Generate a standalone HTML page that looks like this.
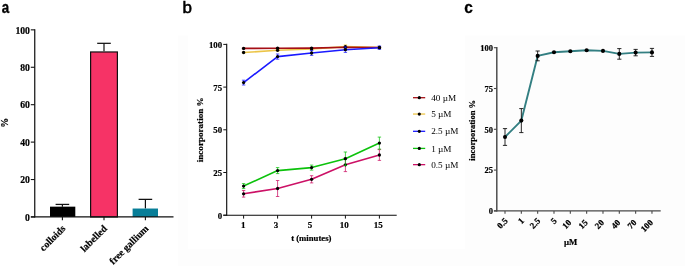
<!DOCTYPE html>
<html><head><meta charset="utf-8"><title>figure</title>
<style>
html,body{margin:0;padding:0;background:#fff;}
body{width:685px;height:267px;overflow:hidden;font-family:"Liberation Serif",serif;}
svg{display:block;will-change:transform;}
</style></head>
<body>
<svg width="685" height="267" viewBox="0 0 685 267">
<rect x="178" y="35.5" width="507" height="230.5" fill="#fdfdfd"/>
<rect x="188" y="0" width="277" height="249.3" fill="#ffffff"/>
<text x="1.80" y="13.20" font-family='"Liberation Sans", sans-serif' font-size="16.5" font-weight="bold" text-anchor="start" fill="#000" textLength="7.4" lengthAdjust="spacingAndGlyphs" stroke="#000" stroke-width="0.4">a</text>
<text x="182.40" y="13.30" font-family='"Liberation Sans", sans-serif' font-size="17" font-weight="normal" text-anchor="start" fill="#000" stroke="#000" stroke-width="0.55">b</text>
<text x="464.30" y="13.40" font-family='"Liberation Sans", sans-serif' font-size="17.2" font-weight="bold" text-anchor="start" fill="#000" textLength="8.6" lengthAdjust="spacingAndGlyphs" stroke="#000" stroke-width="0.3">c</text>
<line x1="62.40" y1="206.66" x2="62.40" y2="204.41" stroke="#111" stroke-width="1.2" stroke-linecap="butt"/>
<line x1="55.60" y1="204.41" x2="69.20" y2="204.41" stroke="#111" stroke-width="1.25" stroke-linecap="butt"/>
<line x1="104.00" y1="51.37" x2="104.00" y2="43.32" stroke="#111" stroke-width="1.2" stroke-linecap="butt"/>
<line x1="97.20" y1="43.32" x2="110.80" y2="43.32" stroke="#111" stroke-width="1.25" stroke-linecap="butt"/>
<line x1="145.40" y1="208.53" x2="145.40" y2="199.36" stroke="#111" stroke-width="1.2" stroke-linecap="butt"/>
<line x1="138.60" y1="199.36" x2="152.20" y2="199.36" stroke="#111" stroke-width="1.25" stroke-linecap="butt"/>
<rect x="50.00" y="206.66" width="25.30" height="10.29" fill="#000000"/>
<rect x="90.60" y="51.97" width="26.80" height="164.98" fill="#f63366" stroke="#111" stroke-width="1.2"/>
<rect x="132.60" y="208.53" width="25.40" height="8.42" fill="#087e98"/>
<line x1="34.75" y1="29.25" x2="34.75" y2="217.55" stroke="#0c0c0c" stroke-width="1.2" stroke-linecap="butt"/>
<line x1="30.90" y1="216.95" x2="173.50" y2="216.95" stroke="#111" stroke-width="1.3" stroke-linecap="butt"/>
<line x1="30.80" y1="216.95" x2="34.75" y2="216.95" stroke="#111" stroke-width="1.1" stroke-linecap="butt"/>
<text x="29.95" y="220.65" font-family='"Liberation Serif", serif' font-size="9.7" font-weight="bold" text-anchor="end" fill="#000" stroke="#000" stroke-width="0.2">0</text>
<line x1="30.80" y1="179.53" x2="34.75" y2="179.53" stroke="#111" stroke-width="1.1" stroke-linecap="butt"/>
<text x="29.95" y="183.23" font-family='"Liberation Serif", serif' font-size="9.7" font-weight="bold" text-anchor="end" fill="#000" stroke="#000" stroke-width="0.2">20</text>
<line x1="30.80" y1="142.11" x2="34.75" y2="142.11" stroke="#111" stroke-width="1.1" stroke-linecap="butt"/>
<text x="29.95" y="145.81" font-family='"Liberation Serif", serif' font-size="9.7" font-weight="bold" text-anchor="end" fill="#000" stroke="#000" stroke-width="0.2">40</text>
<line x1="30.80" y1="104.69" x2="34.75" y2="104.69" stroke="#111" stroke-width="1.1" stroke-linecap="butt"/>
<text x="29.95" y="108.39" font-family='"Liberation Serif", serif' font-size="9.7" font-weight="bold" text-anchor="end" fill="#000" stroke="#000" stroke-width="0.2">60</text>
<line x1="30.80" y1="67.27" x2="34.75" y2="67.27" stroke="#111" stroke-width="1.1" stroke-linecap="butt"/>
<text x="29.95" y="70.97" font-family='"Liberation Serif", serif' font-size="9.7" font-weight="bold" text-anchor="end" fill="#000" stroke="#000" stroke-width="0.2">80</text>
<line x1="30.80" y1="29.85" x2="34.75" y2="29.85" stroke="#111" stroke-width="1.1" stroke-linecap="butt"/>
<text x="29.95" y="33.55" font-family='"Liberation Serif", serif' font-size="9.7" font-weight="bold" text-anchor="end" fill="#000" stroke="#000" stroke-width="0.2">100</text>
<line x1="62.40" y1="216.95" x2="62.40" y2="220.35" stroke="#111" stroke-width="1.1" stroke-linecap="butt"/>
<text x="66.10" y="229.15" font-family='"Liberation Serif", serif' font-size="9.9" font-weight="bold" text-anchor="end" fill="#000" transform="rotate(-45 66.10 229.15)" stroke="#000" stroke-width="0.2">colloids</text>
<line x1="104.00" y1="216.95" x2="104.00" y2="220.35" stroke="#111" stroke-width="1.1" stroke-linecap="butt"/>
<text x="107.70" y="229.15" font-family='"Liberation Serif", serif' font-size="9.9" font-weight="bold" text-anchor="end" fill="#000" transform="rotate(-45 107.70 229.15)" stroke="#000" stroke-width="0.2">labelled</text>
<line x1="145.40" y1="216.95" x2="145.40" y2="220.35" stroke="#111" stroke-width="1.1" stroke-linecap="butt"/>
<text x="149.10" y="229.15" font-family='"Liberation Serif", serif' font-size="9.9" font-weight="bold" text-anchor="end" fill="#000" transform="rotate(-45 149.10 229.15)" stroke="#000" stroke-width="0.2">free gallium</text>
<text x="8.40" y="122.70" font-family='"Liberation Serif", serif' font-size="9.7" font-weight="bold" text-anchor="middle" fill="#000" transform="rotate(-90 8.40 122.70)" stroke="#000" stroke-width="0.2">%</text>
<line x1="226.70" y1="43.85" x2="226.70" y2="215.75" stroke="#0a0a0a" stroke-width="1.12" stroke-linecap="butt"/>
<line x1="223.30" y1="215.20" x2="396.70" y2="215.20" stroke="#0a0a0a" stroke-width="1.12" stroke-linecap="butt"/>
<line x1="223.30" y1="215.20" x2="226.70" y2="215.20" stroke="#111" stroke-width="1.0" stroke-linecap="butt"/>
<text x="222.10" y="218.80" font-family='"Liberation Serif", serif' font-size="8.8" font-weight="bold" text-anchor="end" fill="#000" stroke="#000" stroke-width="0.2">0</text>
<line x1="223.30" y1="172.50" x2="226.70" y2="172.50" stroke="#111" stroke-width="1.0" stroke-linecap="butt"/>
<text x="222.10" y="176.10" font-family='"Liberation Serif", serif' font-size="8.8" font-weight="bold" text-anchor="end" fill="#000" stroke="#000" stroke-width="0.2">25</text>
<line x1="223.30" y1="129.80" x2="226.70" y2="129.80" stroke="#111" stroke-width="1.0" stroke-linecap="butt"/>
<text x="222.10" y="133.40" font-family='"Liberation Serif", serif' font-size="8.8" font-weight="bold" text-anchor="end" fill="#000" stroke="#000" stroke-width="0.2">50</text>
<line x1="223.30" y1="87.10" x2="226.70" y2="87.10" stroke="#111" stroke-width="1.0" stroke-linecap="butt"/>
<text x="222.10" y="90.70" font-family='"Liberation Serif", serif' font-size="8.8" font-weight="bold" text-anchor="end" fill="#000" stroke="#000" stroke-width="0.2">75</text>
<line x1="223.30" y1="44.40" x2="226.70" y2="44.40" stroke="#111" stroke-width="1.0" stroke-linecap="butt"/>
<text x="222.10" y="48.00" font-family='"Liberation Serif", serif' font-size="8.8" font-weight="bold" text-anchor="end" fill="#000" stroke="#000" stroke-width="0.2">100</text>
<line x1="243.60" y1="215.20" x2="243.60" y2="218.60" stroke="#111" stroke-width="1.0" stroke-linecap="butt"/>
<text x="243.35" y="228.15" font-family='"Liberation Serif", serif' font-size="9.0" font-weight="bold" text-anchor="middle" fill="#000" stroke="#000" stroke-width="0.2">1</text>
<line x1="277.60" y1="215.20" x2="277.60" y2="218.60" stroke="#111" stroke-width="1.0" stroke-linecap="butt"/>
<text x="276.05" y="228.15" font-family='"Liberation Serif", serif' font-size="9.0" font-weight="bold" text-anchor="middle" fill="#000" stroke="#000" stroke-width="0.2">3</text>
<line x1="311.60" y1="215.20" x2="311.60" y2="218.60" stroke="#111" stroke-width="1.0" stroke-linecap="butt"/>
<text x="310.10" y="228.15" font-family='"Liberation Serif", serif' font-size="9.0" font-weight="bold" text-anchor="middle" fill="#000" stroke="#000" stroke-width="0.2">5</text>
<line x1="345.40" y1="215.20" x2="345.40" y2="218.60" stroke="#111" stroke-width="1.0" stroke-linecap="butt"/>
<text x="344.25" y="228.15" font-family='"Liberation Serif", serif' font-size="9.0" font-weight="bold" text-anchor="middle" fill="#000" stroke="#000" stroke-width="0.2">10</text>
<line x1="379.40" y1="215.20" x2="379.40" y2="218.60" stroke="#111" stroke-width="1.0" stroke-linecap="butt"/>
<text x="378.20" y="228.15" font-family='"Liberation Serif", serif' font-size="9.0" font-weight="bold" text-anchor="middle" fill="#000" stroke="#000" stroke-width="0.2">15</text>
<text x="311.30" y="241.00" font-family='"Liberation Serif", serif' font-size="8.7" font-weight="bold" text-anchor="middle" fill="#000" stroke="#000" stroke-width="0.2">t (minutes)</text>
<text x="203.30" y="129.80" font-family='"Liberation Serif", serif' font-size="9.1" font-weight="bold" text-anchor="middle" fill="#000" transform="rotate(-90 203.30 129.80)" stroke="#000" stroke-width="0.2">incorporation %</text>
<polyline points="243.60,193.80 277.60,188.50 311.60,179.30 345.40,164.80 379.40,155.00" fill="none" stroke="#cc1166" stroke-width="1.6" stroke-linejoin="round"/>
<line x1="243.60" y1="190.50" x2="243.60" y2="197.10" stroke="#cc1166" stroke-width="0.75" stroke-linecap="butt"/>
<line x1="241.90" y1="190.50" x2="245.30" y2="190.50" stroke="#cc1166" stroke-width="0.75" stroke-linecap="butt"/>
<line x1="241.90" y1="197.10" x2="245.30" y2="197.10" stroke="#cc1166" stroke-width="0.75" stroke-linecap="butt"/>
<line x1="277.60" y1="180.50" x2="277.60" y2="196.50" stroke="#cc1166" stroke-width="0.75" stroke-linecap="butt"/>
<line x1="275.90" y1="180.50" x2="279.30" y2="180.50" stroke="#cc1166" stroke-width="0.75" stroke-linecap="butt"/>
<line x1="275.90" y1="196.50" x2="279.30" y2="196.50" stroke="#cc1166" stroke-width="0.75" stroke-linecap="butt"/>
<line x1="311.60" y1="175.70" x2="311.60" y2="182.90" stroke="#cc1166" stroke-width="0.75" stroke-linecap="butt"/>
<line x1="309.90" y1="175.70" x2="313.30" y2="175.70" stroke="#cc1166" stroke-width="0.75" stroke-linecap="butt"/>
<line x1="309.90" y1="182.90" x2="313.30" y2="182.90" stroke="#cc1166" stroke-width="0.75" stroke-linecap="butt"/>
<line x1="345.40" y1="158.00" x2="345.40" y2="171.60" stroke="#cc1166" stroke-width="0.75" stroke-linecap="butt"/>
<line x1="343.70" y1="158.00" x2="347.10" y2="158.00" stroke="#cc1166" stroke-width="0.75" stroke-linecap="butt"/>
<line x1="343.70" y1="171.60" x2="347.10" y2="171.60" stroke="#cc1166" stroke-width="0.75" stroke-linecap="butt"/>
<line x1="379.40" y1="149.60" x2="379.40" y2="160.40" stroke="#cc1166" stroke-width="0.75" stroke-linecap="butt"/>
<line x1="377.70" y1="149.60" x2="381.10" y2="149.60" stroke="#cc1166" stroke-width="0.75" stroke-linecap="butt"/>
<line x1="377.70" y1="160.40" x2="381.10" y2="160.40" stroke="#cc1166" stroke-width="0.75" stroke-linecap="butt"/>
<circle cx="243.60" cy="193.80" r="1.65" fill="#000"/>
<circle cx="277.60" cy="188.50" r="1.65" fill="#000"/>
<circle cx="311.60" cy="179.30" r="1.65" fill="#000"/>
<circle cx="345.40" cy="164.80" r="1.65" fill="#000"/>
<circle cx="379.40" cy="155.00" r="1.65" fill="#000"/>
<polyline points="243.60,186.10 277.60,170.60 311.60,167.60 345.40,158.70 379.40,143.10" fill="none" stroke="#0cc20c" stroke-width="1.6" stroke-linejoin="round"/>
<line x1="243.60" y1="183.60" x2="243.60" y2="188.60" stroke="#0cc20c" stroke-width="0.75" stroke-linecap="butt"/>
<line x1="241.90" y1="183.60" x2="245.30" y2="183.60" stroke="#0cc20c" stroke-width="0.75" stroke-linecap="butt"/>
<line x1="241.90" y1="188.60" x2="245.30" y2="188.60" stroke="#0cc20c" stroke-width="0.75" stroke-linecap="butt"/>
<line x1="277.60" y1="167.60" x2="277.60" y2="173.60" stroke="#0cc20c" stroke-width="0.75" stroke-linecap="butt"/>
<line x1="275.90" y1="167.60" x2="279.30" y2="167.60" stroke="#0cc20c" stroke-width="0.75" stroke-linecap="butt"/>
<line x1="275.90" y1="173.60" x2="279.30" y2="173.60" stroke="#0cc20c" stroke-width="0.75" stroke-linecap="butt"/>
<line x1="311.60" y1="165.10" x2="311.60" y2="170.10" stroke="#0cc20c" stroke-width="0.75" stroke-linecap="butt"/>
<line x1="309.90" y1="165.10" x2="313.30" y2="165.10" stroke="#0cc20c" stroke-width="0.75" stroke-linecap="butt"/>
<line x1="309.90" y1="170.10" x2="313.30" y2="170.10" stroke="#0cc20c" stroke-width="0.75" stroke-linecap="butt"/>
<line x1="345.40" y1="152.00" x2="345.40" y2="165.40" stroke="#0cc20c" stroke-width="0.75" stroke-linecap="butt"/>
<line x1="343.70" y1="152.00" x2="347.10" y2="152.00" stroke="#0cc20c" stroke-width="0.75" stroke-linecap="butt"/>
<line x1="343.70" y1="165.40" x2="347.10" y2="165.40" stroke="#0cc20c" stroke-width="0.75" stroke-linecap="butt"/>
<line x1="379.40" y1="137.10" x2="379.40" y2="149.10" stroke="#0cc20c" stroke-width="0.75" stroke-linecap="butt"/>
<line x1="377.70" y1="137.10" x2="381.10" y2="137.10" stroke="#0cc20c" stroke-width="0.75" stroke-linecap="butt"/>
<line x1="377.70" y1="149.10" x2="381.10" y2="149.10" stroke="#0cc20c" stroke-width="0.75" stroke-linecap="butt"/>
<circle cx="243.60" cy="186.10" r="1.65" fill="#000"/>
<circle cx="277.60" cy="170.60" r="1.65" fill="#000"/>
<circle cx="311.60" cy="167.60" r="1.65" fill="#000"/>
<circle cx="345.40" cy="158.70" r="1.65" fill="#000"/>
<circle cx="379.40" cy="143.10" r="1.65" fill="#000"/>
<polyline points="243.60,52.50 277.60,50.30 311.60,49.00 345.40,46.60 379.40,47.50" fill="none" stroke="#ecc548" stroke-width="1.6" stroke-linejoin="round"/>
<line x1="243.60" y1="51.90" x2="243.60" y2="53.10" stroke="#ecc548" stroke-width="0.75" stroke-linecap="butt"/>
<line x1="241.90" y1="51.90" x2="245.30" y2="51.90" stroke="#ecc548" stroke-width="0.75" stroke-linecap="butt"/>
<line x1="241.90" y1="53.10" x2="245.30" y2="53.10" stroke="#ecc548" stroke-width="0.75" stroke-linecap="butt"/>
<line x1="277.60" y1="49.50" x2="277.60" y2="51.10" stroke="#ecc548" stroke-width="0.75" stroke-linecap="butt"/>
<line x1="275.90" y1="49.50" x2="279.30" y2="49.50" stroke="#ecc548" stroke-width="0.75" stroke-linecap="butt"/>
<line x1="275.90" y1="51.10" x2="279.30" y2="51.10" stroke="#ecc548" stroke-width="0.75" stroke-linecap="butt"/>
<line x1="311.60" y1="48.20" x2="311.60" y2="49.80" stroke="#ecc548" stroke-width="0.75" stroke-linecap="butt"/>
<line x1="309.90" y1="48.20" x2="313.30" y2="48.20" stroke="#ecc548" stroke-width="0.75" stroke-linecap="butt"/>
<line x1="309.90" y1="49.80" x2="313.30" y2="49.80" stroke="#ecc548" stroke-width="0.75" stroke-linecap="butt"/>
<line x1="345.40" y1="44.90" x2="345.40" y2="48.30" stroke="#ecc548" stroke-width="0.75" stroke-linecap="butt"/>
<line x1="343.70" y1="44.90" x2="347.10" y2="44.90" stroke="#ecc548" stroke-width="0.75" stroke-linecap="butt"/>
<line x1="343.70" y1="48.30" x2="347.10" y2="48.30" stroke="#ecc548" stroke-width="0.75" stroke-linecap="butt"/>
<line x1="379.40" y1="46.90" x2="379.40" y2="48.10" stroke="#ecc548" stroke-width="0.75" stroke-linecap="butt"/>
<line x1="377.70" y1="46.90" x2="381.10" y2="46.90" stroke="#ecc548" stroke-width="0.75" stroke-linecap="butt"/>
<line x1="377.70" y1="48.10" x2="381.10" y2="48.10" stroke="#ecc548" stroke-width="0.75" stroke-linecap="butt"/>
<circle cx="243.60" cy="52.50" r="1.65" fill="#000"/>
<circle cx="277.60" cy="50.30" r="1.65" fill="#000"/>
<circle cx="311.60" cy="49.00" r="1.65" fill="#000"/>
<circle cx="345.40" cy="46.60" r="1.65" fill="#000"/>
<circle cx="379.40" cy="47.50" r="1.65" fill="#000"/>
<polyline points="243.60,48.40 277.60,48.20 311.60,48.10 345.40,47.30 379.40,47.50" fill="none" stroke="#a50f16" stroke-width="1.6" stroke-linejoin="round"/>
<line x1="243.60" y1="47.90" x2="243.60" y2="48.90" stroke="#a50f16" stroke-width="0.75" stroke-linecap="butt"/>
<line x1="241.90" y1="47.90" x2="245.30" y2="47.90" stroke="#a50f16" stroke-width="0.75" stroke-linecap="butt"/>
<line x1="241.90" y1="48.90" x2="245.30" y2="48.90" stroke="#a50f16" stroke-width="0.75" stroke-linecap="butt"/>
<line x1="277.60" y1="47.70" x2="277.60" y2="48.70" stroke="#a50f16" stroke-width="0.75" stroke-linecap="butt"/>
<line x1="275.90" y1="47.70" x2="279.30" y2="47.70" stroke="#a50f16" stroke-width="0.75" stroke-linecap="butt"/>
<line x1="275.90" y1="48.70" x2="279.30" y2="48.70" stroke="#a50f16" stroke-width="0.75" stroke-linecap="butt"/>
<line x1="311.60" y1="47.60" x2="311.60" y2="48.60" stroke="#a50f16" stroke-width="0.75" stroke-linecap="butt"/>
<line x1="309.90" y1="47.60" x2="313.30" y2="47.60" stroke="#a50f16" stroke-width="0.75" stroke-linecap="butt"/>
<line x1="309.90" y1="48.60" x2="313.30" y2="48.60" stroke="#a50f16" stroke-width="0.75" stroke-linecap="butt"/>
<line x1="345.40" y1="46.80" x2="345.40" y2="47.80" stroke="#a50f16" stroke-width="0.75" stroke-linecap="butt"/>
<line x1="343.70" y1="46.80" x2="347.10" y2="46.80" stroke="#a50f16" stroke-width="0.75" stroke-linecap="butt"/>
<line x1="343.70" y1="47.80" x2="347.10" y2="47.80" stroke="#a50f16" stroke-width="0.75" stroke-linecap="butt"/>
<line x1="379.40" y1="47.00" x2="379.40" y2="48.00" stroke="#a50f16" stroke-width="0.75" stroke-linecap="butt"/>
<line x1="377.70" y1="47.00" x2="381.10" y2="47.00" stroke="#a50f16" stroke-width="0.75" stroke-linecap="butt"/>
<line x1="377.70" y1="48.00" x2="381.10" y2="48.00" stroke="#a50f16" stroke-width="0.75" stroke-linecap="butt"/>
<circle cx="243.60" cy="48.40" r="1.65" fill="#000"/>
<circle cx="277.60" cy="48.20" r="1.65" fill="#000"/>
<circle cx="311.60" cy="48.10" r="1.65" fill="#000"/>
<circle cx="345.40" cy="47.30" r="1.65" fill="#000"/>
<circle cx="379.40" cy="47.50" r="1.65" fill="#000"/>
<polyline points="243.60,82.60 277.60,56.60 311.60,53.00 345.40,49.70 379.40,47.70" fill="none" stroke="#1a1aff" stroke-width="1.6" stroke-linejoin="round"/>
<line x1="243.60" y1="80.20" x2="243.60" y2="85.00" stroke="#1a1aff" stroke-width="0.75" stroke-linecap="butt"/>
<line x1="241.90" y1="80.20" x2="245.30" y2="80.20" stroke="#1a1aff" stroke-width="0.75" stroke-linecap="butt"/>
<line x1="241.90" y1="85.00" x2="245.30" y2="85.00" stroke="#1a1aff" stroke-width="0.75" stroke-linecap="butt"/>
<line x1="277.60" y1="54.00" x2="277.60" y2="59.20" stroke="#1a1aff" stroke-width="0.75" stroke-linecap="butt"/>
<line x1="275.90" y1="54.00" x2="279.30" y2="54.00" stroke="#1a1aff" stroke-width="0.75" stroke-linecap="butt"/>
<line x1="275.90" y1="59.20" x2="279.30" y2="59.20" stroke="#1a1aff" stroke-width="0.75" stroke-linecap="butt"/>
<line x1="311.60" y1="50.60" x2="311.60" y2="55.40" stroke="#1a1aff" stroke-width="0.75" stroke-linecap="butt"/>
<line x1="309.90" y1="50.60" x2="313.30" y2="50.60" stroke="#1a1aff" stroke-width="0.75" stroke-linecap="butt"/>
<line x1="309.90" y1="55.40" x2="313.30" y2="55.40" stroke="#1a1aff" stroke-width="0.75" stroke-linecap="butt"/>
<line x1="345.40" y1="47.00" x2="345.40" y2="52.40" stroke="#1a1aff" stroke-width="0.75" stroke-linecap="butt"/>
<line x1="343.70" y1="47.00" x2="347.10" y2="47.00" stroke="#1a1aff" stroke-width="0.75" stroke-linecap="butt"/>
<line x1="343.70" y1="52.40" x2="347.10" y2="52.40" stroke="#1a1aff" stroke-width="0.75" stroke-linecap="butt"/>
<line x1="379.40" y1="46.00" x2="379.40" y2="49.40" stroke="#1a1aff" stroke-width="0.75" stroke-linecap="butt"/>
<line x1="377.70" y1="46.00" x2="381.10" y2="46.00" stroke="#1a1aff" stroke-width="0.75" stroke-linecap="butt"/>
<line x1="377.70" y1="49.40" x2="381.10" y2="49.40" stroke="#1a1aff" stroke-width="0.75" stroke-linecap="butt"/>
<circle cx="243.60" cy="82.60" r="1.65" fill="#000"/>
<circle cx="277.60" cy="56.60" r="1.65" fill="#000"/>
<circle cx="311.60" cy="53.00" r="1.65" fill="#000"/>
<circle cx="345.40" cy="49.70" r="1.65" fill="#000"/>
<circle cx="379.40" cy="47.70" r="1.65" fill="#000"/>
<line x1="413.00" y1="97.70" x2="425.20" y2="97.70" stroke="#a50f16" stroke-width="1.3" stroke-linecap="butt"/>
<circle cx="419.3" cy="97.70" r="1.6" fill="#000"/>
<text x="431.20" y="100.80" font-family='"Liberation Serif", serif' font-size="9.2" font-weight="normal" text-anchor="start" fill="#000">40 µM</text>
<line x1="413.00" y1="114.05" x2="425.20" y2="114.05" stroke="#ecc548" stroke-width="1.3" stroke-linecap="butt"/>
<circle cx="419.3" cy="114.05" r="1.6" fill="#000"/>
<text x="431.20" y="117.15" font-family='"Liberation Serif", serif' font-size="9.2" font-weight="normal" text-anchor="start" fill="#000">5 µM</text>
<line x1="413.00" y1="131.30" x2="425.20" y2="131.30" stroke="#1a1aff" stroke-width="1.3" stroke-linecap="butt"/>
<circle cx="419.3" cy="131.30" r="1.6" fill="#000"/>
<text x="431.20" y="134.40" font-family='"Liberation Serif", serif' font-size="9.2" font-weight="normal" text-anchor="start" fill="#000">2.5 µM</text>
<line x1="413.00" y1="148.40" x2="425.20" y2="148.40" stroke="#0cc20c" stroke-width="1.3" stroke-linecap="butt"/>
<circle cx="419.3" cy="148.40" r="1.6" fill="#000"/>
<text x="431.20" y="151.50" font-family='"Liberation Serif", serif' font-size="9.2" font-weight="normal" text-anchor="start" fill="#000">1 µM</text>
<line x1="413.00" y1="164.65" x2="425.20" y2="164.65" stroke="#cc1166" stroke-width="1.3" stroke-linecap="butt"/>
<circle cx="419.3" cy="164.65" r="1.6" fill="#000"/>
<text x="431.20" y="167.75" font-family='"Liberation Serif", serif' font-size="9.2" font-weight="normal" text-anchor="start" fill="#000">0.5 µM</text>
<line x1="496.80" y1="47.10" x2="496.80" y2="211.60" stroke="#484848" stroke-width="1.45" stroke-linecap="butt"/>
<line x1="493.90" y1="210.90" x2="660.70" y2="210.90" stroke="#484848" stroke-width="1.4" stroke-linecap="butt"/>
<line x1="493.90" y1="210.90" x2="496.80" y2="210.90" stroke="#484848" stroke-width="1.1" stroke-linecap="butt"/>
<text x="493.00" y="214.20" font-family='"Liberation Serif", serif' font-size="8.5" font-weight="bold" text-anchor="end" fill="#000" stroke="#000" stroke-width="0.2">0</text>
<line x1="493.90" y1="170.10" x2="496.80" y2="170.10" stroke="#484848" stroke-width="1.1" stroke-linecap="butt"/>
<text x="493.00" y="173.40" font-family='"Liberation Serif", serif' font-size="8.5" font-weight="bold" text-anchor="end" fill="#000" stroke="#000" stroke-width="0.2">25</text>
<line x1="493.90" y1="129.30" x2="496.80" y2="129.30" stroke="#484848" stroke-width="1.1" stroke-linecap="butt"/>
<text x="493.00" y="132.60" font-family='"Liberation Serif", serif' font-size="8.5" font-weight="bold" text-anchor="end" fill="#000" stroke="#000" stroke-width="0.2">50</text>
<line x1="493.90" y1="88.50" x2="496.80" y2="88.50" stroke="#484848" stroke-width="1.1" stroke-linecap="butt"/>
<text x="493.00" y="91.80" font-family='"Liberation Serif", serif' font-size="8.5" font-weight="bold" text-anchor="end" fill="#000" stroke="#000" stroke-width="0.2">75</text>
<line x1="493.90" y1="47.70" x2="496.80" y2="47.70" stroke="#484848" stroke-width="1.1" stroke-linecap="butt"/>
<text x="493.00" y="51.00" font-family='"Liberation Serif", serif' font-size="8.5" font-weight="bold" text-anchor="end" fill="#000" stroke="#000" stroke-width="0.2">100</text>
<line x1="505.00" y1="210.90" x2="505.00" y2="213.80" stroke="#484848" stroke-width="1.1" stroke-linecap="butt"/>
<text x="508.30" y="221.50" font-family='"Liberation Serif", serif' font-size="8.8" font-weight="bold" text-anchor="end" fill="#000" transform="rotate(-45 508.30 221.50)" stroke="#000" stroke-width="0.2">0.5</text>
<line x1="521.33" y1="210.90" x2="521.33" y2="213.80" stroke="#484848" stroke-width="1.1" stroke-linecap="butt"/>
<text x="524.63" y="221.50" font-family='"Liberation Serif", serif' font-size="8.8" font-weight="bold" text-anchor="end" fill="#000" transform="rotate(-45 524.63 221.50)" stroke="#000" stroke-width="0.2">1</text>
<line x1="537.66" y1="210.90" x2="537.66" y2="213.80" stroke="#484848" stroke-width="1.1" stroke-linecap="butt"/>
<text x="540.96" y="221.50" font-family='"Liberation Serif", serif' font-size="8.8" font-weight="bold" text-anchor="end" fill="#000" transform="rotate(-45 540.96 221.50)" stroke="#000" stroke-width="0.2">2.5</text>
<line x1="553.99" y1="210.90" x2="553.99" y2="213.80" stroke="#484848" stroke-width="1.1" stroke-linecap="butt"/>
<text x="557.29" y="221.50" font-family='"Liberation Serif", serif' font-size="8.8" font-weight="bold" text-anchor="end" fill="#000" transform="rotate(-45 557.29 221.50)" stroke="#000" stroke-width="0.2">5</text>
<line x1="570.32" y1="210.90" x2="570.32" y2="213.80" stroke="#484848" stroke-width="1.1" stroke-linecap="butt"/>
<text x="571.92" y="223.20" font-family='"Liberation Serif", serif' font-size="8.8" font-weight="bold" text-anchor="end" fill="#000" transform="rotate(-45 571.92 223.20)" stroke="#000" stroke-width="0.2">10</text>
<line x1="586.65" y1="210.90" x2="586.65" y2="213.80" stroke="#484848" stroke-width="1.1" stroke-linecap="butt"/>
<text x="588.25" y="223.20" font-family='"Liberation Serif", serif' font-size="8.8" font-weight="bold" text-anchor="end" fill="#000" transform="rotate(-45 588.25 223.20)" stroke="#000" stroke-width="0.2">15</text>
<line x1="602.98" y1="210.90" x2="602.98" y2="213.80" stroke="#484848" stroke-width="1.1" stroke-linecap="butt"/>
<text x="604.58" y="223.20" font-family='"Liberation Serif", serif' font-size="8.8" font-weight="bold" text-anchor="end" fill="#000" transform="rotate(-45 604.58 223.20)" stroke="#000" stroke-width="0.2">20</text>
<line x1="619.31" y1="210.90" x2="619.31" y2="213.80" stroke="#484848" stroke-width="1.1" stroke-linecap="butt"/>
<text x="620.91" y="223.20" font-family='"Liberation Serif", serif' font-size="8.8" font-weight="bold" text-anchor="end" fill="#000" transform="rotate(-45 620.91 223.20)" stroke="#000" stroke-width="0.2">40</text>
<line x1="635.64" y1="210.90" x2="635.64" y2="213.80" stroke="#484848" stroke-width="1.1" stroke-linecap="butt"/>
<text x="637.24" y="223.20" font-family='"Liberation Serif", serif' font-size="8.8" font-weight="bold" text-anchor="end" fill="#000" transform="rotate(-45 637.24 223.20)" stroke="#000" stroke-width="0.2">70</text>
<line x1="651.97" y1="210.90" x2="651.97" y2="213.80" stroke="#484848" stroke-width="1.1" stroke-linecap="butt"/>
<text x="653.57" y="223.20" font-family='"Liberation Serif", serif' font-size="8.8" font-weight="bold" text-anchor="end" fill="#000" transform="rotate(-45 653.57 223.20)" stroke="#000" stroke-width="0.2">100</text>
<text x="570.60" y="244.80" font-family='"Liberation Serif", serif' font-size="8.8" font-weight="bold" text-anchor="middle" fill="#000" stroke="#000" stroke-width="0.2">µM</text>
<text x="474.60" y="130.30" font-family='"Liberation Serif", serif' font-size="8.5" font-weight="bold" text-anchor="middle" fill="#000" transform="rotate(-90 474.60 130.30)" stroke="#000" stroke-width="0.2">incorporation %</text>
<polyline points="505.00,137.00 521.33,120.60 537.66,55.90 553.99,52.30 570.32,51.20 586.65,50.20 602.98,50.90 619.31,53.90 635.64,52.60 651.97,52.40" fill="none" stroke="#337f82" stroke-width="1.9" stroke-linejoin="round"/>
<line x1="505.00" y1="128.60" x2="505.00" y2="145.40" stroke="#111" stroke-width="0.9" stroke-linecap="butt"/>
<line x1="502.90" y1="128.60" x2="507.10" y2="128.60" stroke="#111" stroke-width="0.9" stroke-linecap="butt"/>
<line x1="502.90" y1="145.40" x2="507.10" y2="145.40" stroke="#111" stroke-width="0.9" stroke-linecap="butt"/>
<line x1="521.33" y1="108.60" x2="521.33" y2="132.60" stroke="#111" stroke-width="0.9" stroke-linecap="butt"/>
<line x1="519.23" y1="108.60" x2="523.43" y2="108.60" stroke="#111" stroke-width="0.9" stroke-linecap="butt"/>
<line x1="519.23" y1="132.60" x2="523.43" y2="132.60" stroke="#111" stroke-width="0.9" stroke-linecap="butt"/>
<line x1="537.66" y1="51.00" x2="537.66" y2="60.80" stroke="#111" stroke-width="0.9" stroke-linecap="butt"/>
<line x1="535.56" y1="51.00" x2="539.76" y2="51.00" stroke="#111" stroke-width="0.9" stroke-linecap="butt"/>
<line x1="535.56" y1="60.80" x2="539.76" y2="60.80" stroke="#111" stroke-width="0.9" stroke-linecap="butt"/>
<line x1="619.31" y1="48.60" x2="619.31" y2="59.20" stroke="#111" stroke-width="0.9" stroke-linecap="butt"/>
<line x1="617.21" y1="48.60" x2="621.41" y2="48.60" stroke="#111" stroke-width="0.9" stroke-linecap="butt"/>
<line x1="617.21" y1="59.20" x2="621.41" y2="59.20" stroke="#111" stroke-width="0.9" stroke-linecap="butt"/>
<line x1="635.64" y1="49.40" x2="635.64" y2="55.80" stroke="#111" stroke-width="0.9" stroke-linecap="butt"/>
<line x1="633.54" y1="49.40" x2="637.74" y2="49.40" stroke="#111" stroke-width="0.9" stroke-linecap="butt"/>
<line x1="633.54" y1="55.80" x2="637.74" y2="55.80" stroke="#111" stroke-width="0.9" stroke-linecap="butt"/>
<line x1="651.97" y1="48.40" x2="651.97" y2="56.40" stroke="#111" stroke-width="0.9" stroke-linecap="butt"/>
<line x1="649.87" y1="48.40" x2="654.07" y2="48.40" stroke="#111" stroke-width="0.9" stroke-linecap="butt"/>
<line x1="649.87" y1="56.40" x2="654.07" y2="56.40" stroke="#111" stroke-width="0.9" stroke-linecap="butt"/>
<circle cx="505.00" cy="137.00" r="2.05" fill="#000"/>
<circle cx="521.33" cy="120.60" r="2.05" fill="#000"/>
<circle cx="537.66" cy="55.90" r="2.05" fill="#000"/>
<circle cx="553.99" cy="52.30" r="2.05" fill="#000"/>
<circle cx="570.32" cy="51.20" r="2.05" fill="#000"/>
<circle cx="586.65" cy="50.20" r="2.05" fill="#000"/>
<circle cx="602.98" cy="50.90" r="2.05" fill="#000"/>
<circle cx="619.31" cy="53.90" r="2.05" fill="#000"/>
<circle cx="635.64" cy="52.60" r="2.05" fill="#000"/>
<circle cx="651.97" cy="52.40" r="2.05" fill="#000"/>
</svg>
</body></html>
